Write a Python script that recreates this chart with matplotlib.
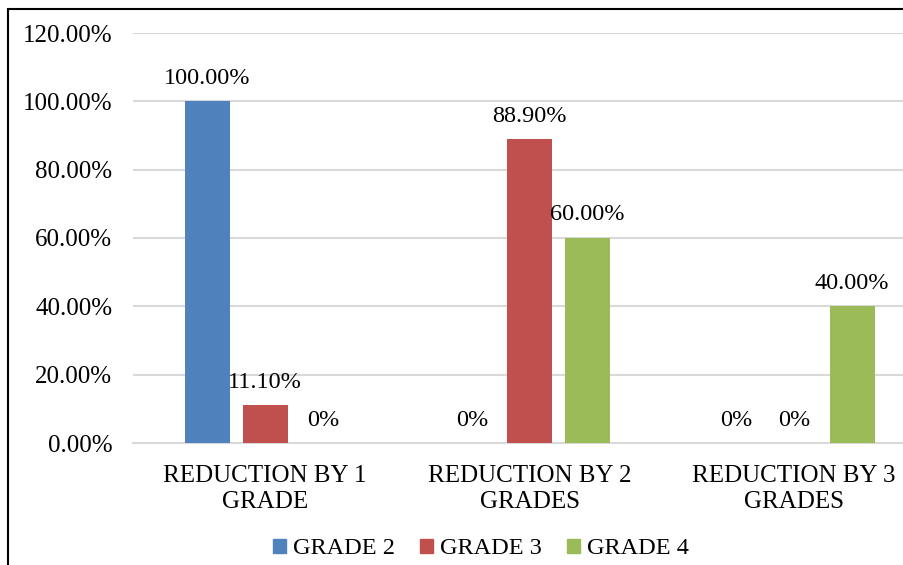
import matplotlib
matplotlib.use("Agg")
import matplotlib.pyplot as plt
import matplotlib.patches as mpatches
import numpy as np

plt.rcParams['font.family'] = ['Liberation Serif', 'DejaVu Serif']

categories = ["REDUCTION BY 1\nGRADE", "REDUCTION BY 2\nGRADES", "REDUCTION BY 3\nGRADES"]
series_names = ["GRADE 2", "GRADE 3", "GRADE 4"]
grade2 = [100.00, 0.0, 0.0]
grade3 = [11.10, 88.90, 0.0]
grade4 = [0.0, 60.00, 40.00]
value_labels = [
    ["100.00%", "0%", "0%"],
    ["11.10%", "88.90%", "0%"],
    ["0%", "60.00%", "40.00%"],
]
yticks = [0, 20, 40, 60, 80, 100, 120]
ytick_labels = ["0.00%", "20.00%", "40.00%", "60.00%", "80.00%", "100.00%", "120.00%"]
colors = ["#4F81BD", "#C0504D", "#9BBB59"]

fig = plt.figure(figsize=(9.04, 5.65), dpi=100)
ax = fig.add_axes([133 / 904, (565 - 443) / 565, 3 * 264.5 / 904, 410 / 565])

x = np.arange(len(categories))
width = 0.17
step = 0.219
for i, (vals, name, col) in enumerate(zip([grade2, grade3, grade4], series_names, colors)):
    pos = x + (i - 1) * step
    ax.bar(pos, vals, width=width, color=col, label=name, zorder=3)
    for p, v, lab in zip(pos, vals, value_labels[i]):
        ax.annotate(lab, (p, v), xytext=(0, 9), textcoords="offset points",
                    ha="center", va="bottom", fontsize=17.5, color="#000000")

ax.set_xlim(-0.5, 2.5)
ax.set_ylim(0, 120)
ax.set_yticks(yticks)
ax.set_yticklabels(ytick_labels, fontsize=18)
ax.set_xticks(x)
ax.set_xticklabels(categories, fontsize=18, linespacing=1.2)
ax.tick_params(axis="y", length=0, pad=15)
ax.tick_params(axis="x", length=0, pad=16)
ax.yaxis.grid(True, color="#D9D9D9", linewidth=1.5, zorder=0)
for s in ["top", "right", "left"]:
    ax.spines[s].set_visible(False)
ax.spines["bottom"].set_color("#D9D9D9")
ax.spines["bottom"].set_linewidth(1.5)

handles = [mpatches.Patch(color=c) for c in colors]
fig.legend(handles, series_names, loc="center", bbox_to_anchor=(481 / 904, 1 - 549 / 565),
           ncol=3, frameon=False, fontsize=17.5, handlelength=0.55, handleheight=0.55,
           handletextpad=0.3, columnspacing=1.0)

# outer chart frame
fig.patches.append(mpatches.Rectangle((7.5 / 904, -0.1), 1.2, 1 - 8.5 / 565 + 0.1,
                                      transform=fig.transFigure, fill=False,
                                      edgecolor="black", linewidth=1.5))

fig.savefig("out.png", dpi=100)
